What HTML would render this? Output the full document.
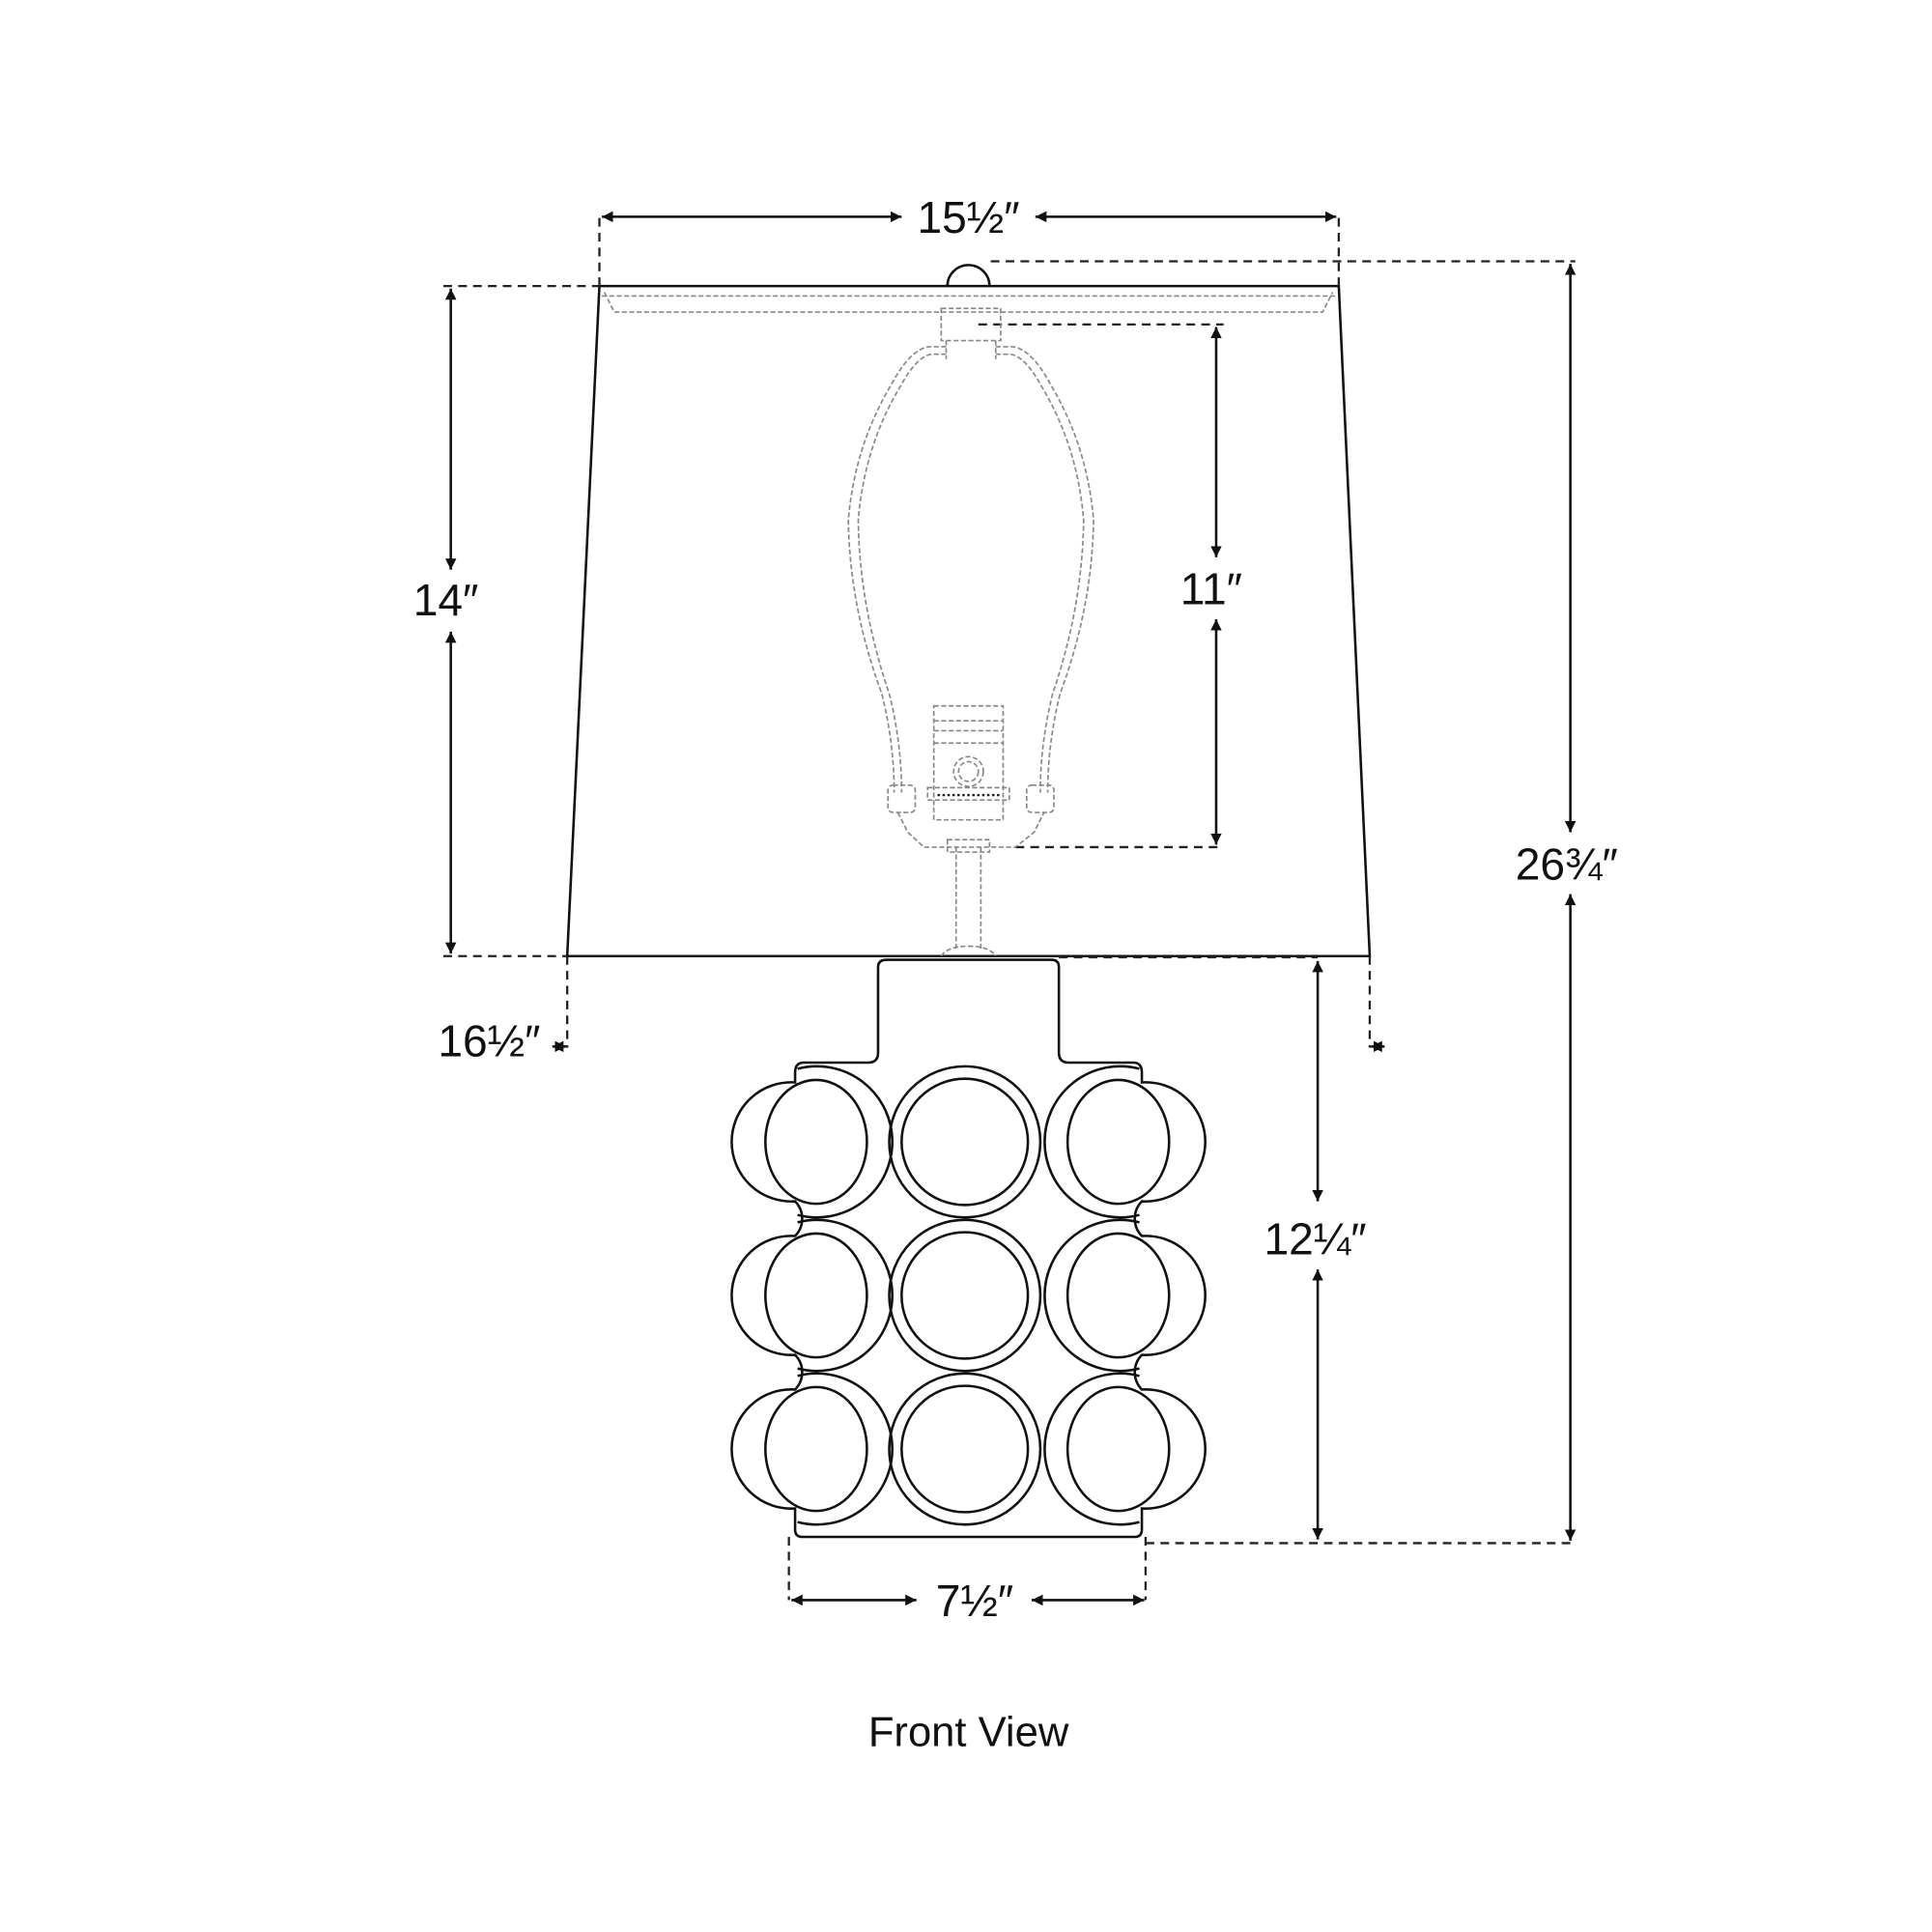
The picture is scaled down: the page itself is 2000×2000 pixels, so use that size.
<!DOCTYPE html>
<html><head><style>html,body{margin:0;padding:0;background:#fff}svg{display:block}</style></head>
<body>
<svg width="2000" height="2000" viewBox="0 0 1560 1560" xmlns="http://www.w3.org/2000/svg">
<defs>
<marker id="a" viewBox="0 0 10 10" refX="10" refY="5" markerWidth="9" markerHeight="9" orient="auto-start-reverse" markerUnits="userSpaceOnUse"><path d="M0,0 L10,5 L0,10 z" fill="#111"/></marker>
</defs>
<g fill="none" stroke="#111" stroke-width="2">
<path d="M484,231 L1081,231 L1106,772 L458,772 Z"/>
<path d="M765,231 A17,17 0 0 1 799,231"/>
</g>
<g fill="none" stroke="#222" stroke-width="1.8" stroke-dasharray="7,5">
<path d="M800,211 L1272,211"/>
<path d="M484,231 L484,175"/><path d="M1081,231 L1081,175"/>
<path d="M358,231 L484,231"/><path d="M358,772 L458,772"/>
<path d="M458,772 L458,846"/><path d="M1106,772 L1106,846"/>
<path d="M790,262 L988,262"/><path d="M820,684 L988,684"/>
<path d="M855,773 L1064,773"/><path d="M925,1246 L1272,1246"/>
<path d="M637,1241 L637,1292"/><path d="M925,1241 L925,1292"/>
</g>
<g fill="none" stroke="#888" stroke-width="1.3" stroke-dasharray="4,2">
<path d="M488,236 L496,252 L1068,252 L1076,236"/>
<path d="M486,239 L1078,239"/>
<rect x="760" y="249" width="48" height="26"/>
<path d="M764,275 L764,290 M804,275 L804,290"/>
<path d="M764,280 L750,280 Q735,282 720,310 Q690,360 685,420 Q686,490 712,560 Q722,600 722,640"/>
<path d="M764,286 L752,286 Q740,288 727,312 Q698,360 693,420 Q694,490 718,560 Q728,600 728,640"/>
<path d="M804,280 L818,280 Q833,282 848,310 Q878,360 883,420 Q882,490 856,560 Q846,600 846,640"/>
<path d="M804,286 L816,286 Q828,288 841,312 Q870,360 875,420 Q874,490 850,560 Q840,600 840,640"/>
<rect x="717" y="634" width="22" height="22" rx="4"/>
<rect x="829" y="634" width="22" height="22" rx="4"/>
<path d="M725,656 L733,672 L746,684 L820,684 L835,672 L843,656"/>
<rect x="754" y="570" width="56" height="92"/>
<path d="M754,582 L810,582 M754,590 L810,590 M754,600 L810,600"/>
<circle cx="782" cy="623" r="12"/><circle cx="782" cy="623" r="8"/>
<rect x="749" y="636" width="66" height="10"/>
<path d="M772,684 L772,766 M792,684 L792,766 M765,678 L799,678 L799,688 L765,688 Z"/>
<path d="M760,772 Q765,764 782,764 Q799,764 804,772"/>
</g>
<g fill="none" stroke="#222" stroke-width="1.8" stroke-dasharray="2,2">
<path d="M757,642 L808,642"/>
</g>
<g fill="none" stroke="#111" stroke-width="2">
<path d="M716,775 L849,775 Q855,775 855,781 L855,850 Q855,858 863,858 L915,858 Q922,858 922,866 L922,874 A48.1,48.1 0 1 1 922,970 A20,20 0 0 0 922,998 A48.1,48.1 0 1 1 922,1094 A20,20 0 0 0 922,1122 A48.1,48.1 0 1 1 922,1218 L922,1235 Q922,1241 916,1241 L648,1241 Q642,1241 642,1235 L642,1218 A48.1,48.1 0 1 1 642,1122 A20,20 0 0 0 642,1094 A48.1,48.1 0 1 1 642,998 A20,20 0 0 0 642,970 A48.1,48.1 0 1 1 642,874 L642,866 Q642,858 649,858 L701,858 Q709,858 709,850 L709,781 Q709,775 716,775 Z"/>
<g id="row">
<circle cx="779" cy="922" r="61"/><circle cx="779" cy="922" r="51"/>
<path d="M644,863 A61,61 0 1 1 644,981"/>
<ellipse cx="659" cy="922" rx="41" ry="50"/>
<path d="M920,863 A61,61 0 1 0 920,981"/>
<ellipse cx="903" cy="922" rx="41" ry="50"/>
</g>
<use href="#row" y="124"/>
<use href="#row" y="248"/>
</g>
<g stroke="#111" stroke-width="2" fill="none" marker-start="url(#a)" marker-end="url(#a)">
<path d="M486,175 L728,175" marker-start="url(#a)" marker-end=""/>
<path d="M836,175 L1079,175" marker-start="" marker-end="url(#a)"/>
<path d="M364,233 L364,460" marker-end=""/>
<path d="M364,510 L364,770" marker-start=""/>
<path d="M982,264 L982,450" marker-end=""/>
<path d="M982,500 L982,682" marker-start=""/>
<path d="M1268,213 L1268,672" marker-end=""/>
<path d="M1268,722 L1268,1244" marker-start=""/>
<path d="M1064,776 L1064,970" marker-end=""/>
<path d="M1064,1025 L1064,1243" marker-start=""/>
<path d="M639,1292 L740,1292" marker-end=""/>
<path d="M833,1292 L924,1292" marker-start=""/>
<path d="M446,845 L457,845" marker-start=""/>
<path d="M1118,845 L1107,845" marker-start=""/>
</g>
<g font-family="Liberation Sans, sans-serif" font-size="36" fill="#111" text-anchor="middle">
<text x="782" y="188">15½″</text>
<text x="360" y="497">14″</text>
<text x="978" y="488">11″</text>
<text x="1265" y="710">26¾″</text>
<text x="395" y="853">16½″</text>
<text x="1062" y="1013">12¼″</text>
<text x="787" y="1305">7½″</text>
<text x="782" y="1410" font-size="34">Front View</text>
</g>
</svg>
</body></html>
